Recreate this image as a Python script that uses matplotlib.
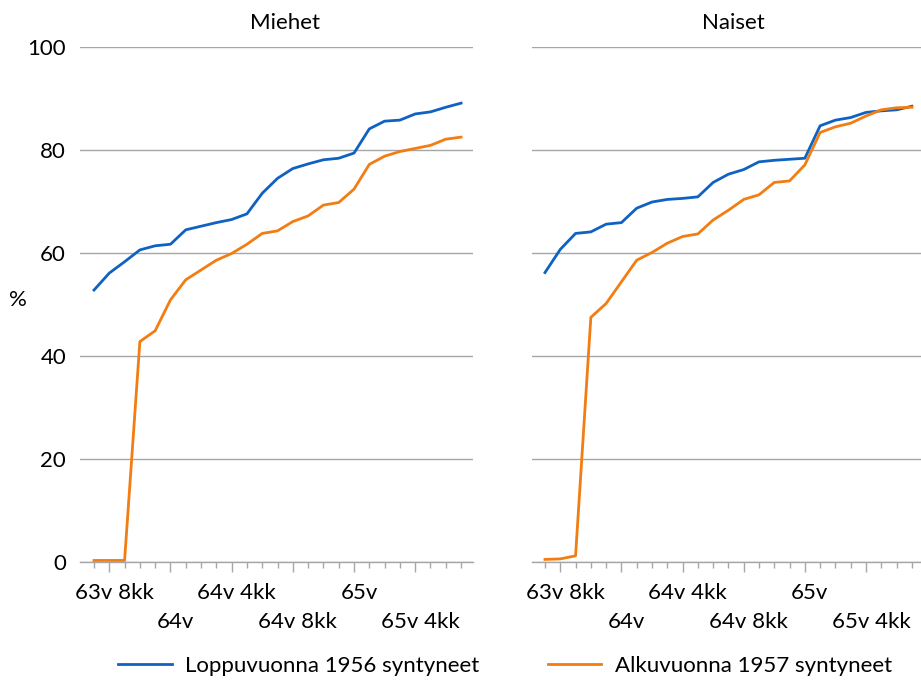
import matplotlib
matplotlib.use("Agg")
import matplotlib.pyplot as plt
from matplotlib.ticker import FixedLocator, NullFormatter
from matplotlib.transforms import ScaledTranslation

plt.rcParams['font.family'] = ['Lato', 'DejaVu Sans']

# 25 monthly categories: index 0 = 63v 7kk ... index 24 = 65v 11kk
n_points = 25
label_idx = [1, 5, 9, 13, 17, 21]
tick_labels = ["63v 8kk", "64v", "64v 4kk", "64v 8kk", "65v", "65v 4kk"]

miehet_1956 = [52.8, 56.1, 58.3, 60.6, 61.4, 61.7, 64.5, 65.2, 65.9, 66.5, 67.6, 71.6, 74.5,
               76.4, 77.3, 78.1, 78.4, 79.4, 84.1, 85.6, 85.8, 87.0, 87.4, 88.3, 89.1]
miehet_1957 = [0.3, 0.3, 0.3, 42.8, 44.9, 50.9, 54.8, 56.7, 58.6, 59.9, 61.7, 63.8, 64.3,
               66.1, 67.2, 69.3, 69.8, 72.4, 77.2, 78.8, 79.7, 80.3, 80.9, 82.1, 82.5]
naiset_1956 = [56.2, 60.7, 63.8, 64.1, 65.6, 65.9, 68.7, 69.9, 70.4, 70.6, 70.9, 73.7, 75.3,
               76.2, 77.7, 78.0, 78.2, 78.4, 84.7, 85.8, 86.3, 87.3, 87.6, 87.8, 88.5]
naiset_1957 = [0.5, 0.6, 1.2, 47.5, 50.2, 54.4, 58.6, 60.1, 61.9, 63.2, 63.7, 66.4, 68.3,
               70.4, 71.3, 73.7, 74.0, 77.1, 83.4, 84.5, 85.2, 86.6, 87.8, 88.2, 88.3]

series_names = ["Loppuvuonna 1956 syntyneet", "Alkuvuonna 1957 syntyneet"]
titles = ["Miehet", "Naiset"]
blue = "#0F62C2"
orange = "#F27D12"
grid_c = "#A6A6A6"
FS = 16

W, H = 921, 687
fig = plt.figure(figsize=(W / 100, H / 100), dpi=100)

def frac(x0, x1, ytop, ybot):
    return [x0 / W, 1 - ybot / H, (x1 - x0) / W, (ybot - ytop) / H]

ax1 = fig.add_axes(frac(80, 473, 47, 562))
ax2 = fig.add_axes(frac(532, 921, 47, 562))

x = list(range(n_points))
panels = [(ax1, miehet_1956, miehet_1957, (-0.915, 24.78), (285 - 80) / 393, titles[0]),
          (ax2, naiset_1956, naiset_1957, (-0.85, 24.6), (733 - 532) / 389, titles[1])]

lines = []
for ax, s1, s2, xl, tx, title in panels:
    l1, = ax.plot(x, s1, color=blue, lw=2.0, solid_joinstyle='round')
    l2, = ax.plot(x, s2, color=orange, lw=2.0, solid_joinstyle='round')
    lines = [l1, l2]
    ax.set_xlim(*xl)
    ax.set_ylim(0, 100)
    ax.set_yticks([0, 20, 40, 60, 80, 100])
    ax.grid(axis='y', color=grid_c, lw=1.0)
    ax.set_axisbelow(True)
    for s in ['top', 'right', 'left']:
        ax.spines[s].set_visible(False)
    ax.spines['bottom'].set_color(grid_c)
    ax.spines['bottom'].set_linewidth(1.0)
    ax.xaxis.set_major_locator(FixedLocator(label_idx))
    ax.set_xticklabels(tick_labels)
    ax.xaxis.set_minor_locator(FixedLocator([i for i in x if i not in label_idx]))
    ax.xaxis.set_minor_formatter(NullFormatter())
    ax.tick_params(axis='x', which='major', length=7, width=1, color=grid_c,
                   labelsize=FS, pad=8)
    ax.tick_params(axis='x', which='minor', length=4, width=1, color=grid_c)
    ax.tick_params(axis='y', length=0, labelsize=FS, pad=10)
    for k, lbl in enumerate(ax.get_xticklabels()):
        dy = -29 / 100 if k % 2 == 1 else 0
        lbl.set_transform(lbl.get_transform() + ScaledTranslation(5 / 100, dy, fig.dpi_scale_trans))
    ax.set_title(title, x=tx, fontsize=FS, pad=13)

ax2.tick_params(axis='y', labelleft=False)
ax1.set_ylabel('%', rotation=0, fontsize=FS, va='center', ha='center')
ax1.yaxis.set_label_coords(-62 / 393, (562 - 300) / 515)

fig.legend(lines, series_names, loc='center', bbox_to_anchor=(505 / W, 1 - 666 / H), ncol=2,
           frameon=False, fontsize=FS, handlelength=2.4, handletextpad=0.6,
           columnspacing=3.1)

fig.savefig("out.png", dpi=100)
